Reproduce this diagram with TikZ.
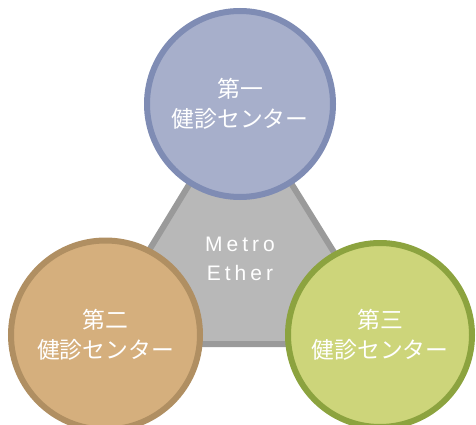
\documentclass[tikz,border=0pt]{standalone}
\usepackage{fontspec}
\newfontfamily\jpfont{Noto Sans CJK JP}
\newfontfamily\latfont[LetterSpace=19]{Liberation Sans}
\definecolor{triFill}{HTML}{B8B8B8}
\definecolor{triLine}{HTML}{9A9A9A}
\definecolor{aFill}{HTML}{A7AFCB}
\definecolor{aLine}{HTML}{7F8CB4}
\definecolor{bFill}{HTML}{D5AF7D}
\definecolor{bLine}{HTML}{B08F62}
\definecolor{cFill}{HTML}{CDD57A}
\definecolor{cLine}{HTML}{8CA33F}
\tikzset{
  center/.style={circle, line width=6pt, inner sep=0pt, text=white, align=center,
    font=\jpfont\fontsize{22.8}{30}\selectfont},
  hub/.style={fill=triFill, draw=triLine, line width=6pt, line join=miter},
  hublabel/.style={text=white, align=center, font=\latfont\fontsize{21}{29}\selectfont}
}
\begin{document}
\begin{tikzpicture}[x=1pt,y=-1pt]
\useasboundingbox (0,0) rectangle (476,425);
\coordinate (t1) at (240,101);
\coordinate (t2) at (92,344);
\coordinate (t3) at (391,344);
\draw[hub] (t1) -- (t2) -- (t3) -- cycle;
\node[hublabel] (ether) at (240,259) {Metro\\Ether};
\node[center, fill=aFill, draw=aLine, minimum size=186pt] (c1) at (240,104) {第一\\健診センター};
\node[center, fill=bFill, draw=bLine, minimum size=189pt] (c2) at (105.5,335) {第二\\健診センター};
\node[center, fill=cFill, draw=cLine, minimum size=184pt] (c3) at (380,335) {第三\\健診センター};
\end{tikzpicture}
\end{document}
